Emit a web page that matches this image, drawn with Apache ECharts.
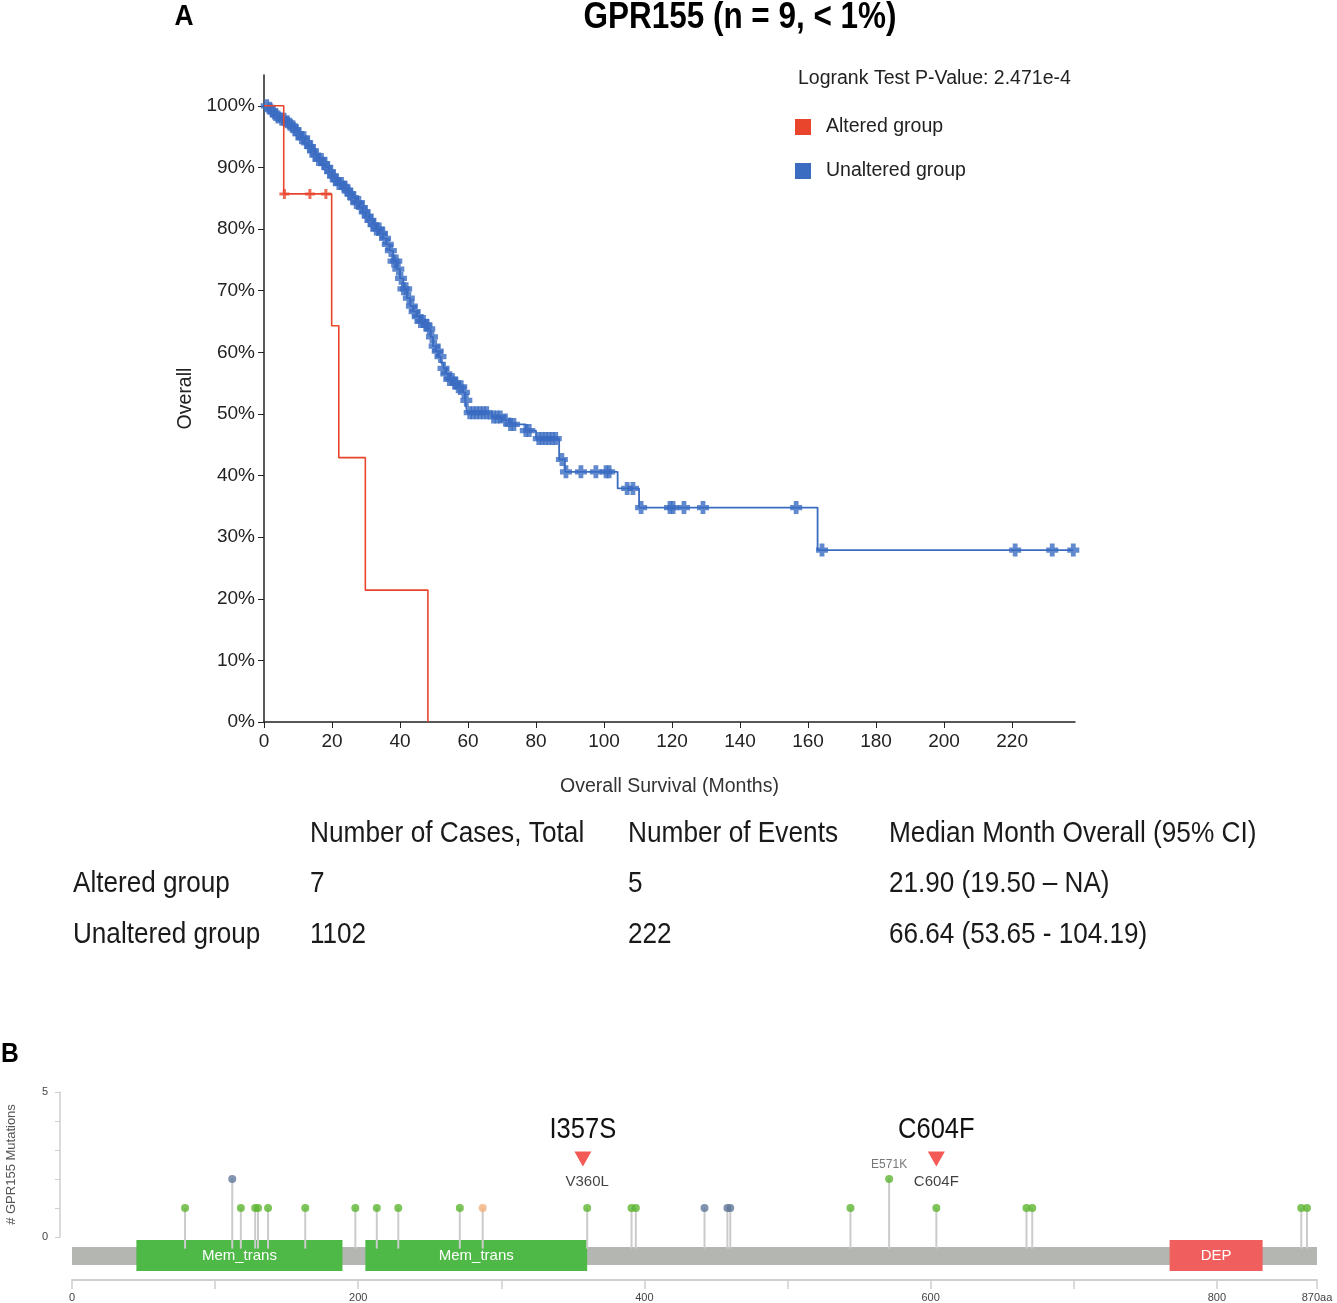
<!DOCTYPE html>
<html>
<head>
<meta charset="utf-8">
<script src="https://cdn.jsdelivr.net/npm/echarts@6/dist/echarts.min.js"></script>
<style>
html, body { margin: 0; padding: 0; background: #fff; }
#chart { width: 1337px; height: 1303px; }
</style>
</head>
<body>
<div id="chart"></div>
<script>
// ---- panel A: Kaplan-Meier, [months, survival %] ----
var alteredSteps = [[0, 100], [5.8, 85.7], [19.9, 64.3], [22.0, 42.9], [29.8, 21.4], [48.2, 0]];
var alteredCensored = [6.0, 13.5, 18.2];

var unalteredSteps = [
    [0, 100], [1, 99.6], [2, 99.1], [3, 98.6], [4, 98.2], [5, 97.8], [6, 97.4], [7, 97.0],
    [8, 96.6], [9, 96.1], [10, 95.5], [11, 94.8], [12, 94.0], [13, 93.4], [14, 92.7],
    [15, 92.0], [16, 91.3], [17, 90.6], [18, 90.0], [19, 89.3], [20, 88.6], [21, 88.0],
    [22, 87.4], [23, 86.8], [24, 86.3], [25, 85.7], [26, 85.1], [27, 84.3], [28, 83.5],
    [29, 82.8], [30, 82.1], [31, 81.4], [32, 80.7], [33, 80.0], [34, 79.3], [35, 78.5],
    [36, 77.5], [37, 76.5], [38, 74.8], [39, 73.5], [40, 72.0], [41, 70.3], [42, 68.8],
    [43, 67.5], [44, 66.6], [45, 65.8], [46, 65.0], [47, 64.4], [48, 63.8], [49, 62.5],
    [49.7, 61], [50.5, 60.2], [51.2, 59.3], [52, 58.3], [52.8, 57.4], [53.6, 56.5],
    [54.5, 55.6], [55.5, 55.0], [57, 54.4], [58.5, 53.5], [59.2, 52.2], [59.7, 50.2],
    [67, 49.5], [70, 49], [72.5, 48.3], [77, 47.3], [80, 46], [86.8, 42.6],
    [88.5, 40.6], [104, 37.9], [110.3, 34.8], [162.8, 27.9], [238, 27.9]
];
var unalteredCensored = [
    0.8, 1.7, 2.5, 3.4, 4.1, 5.2, 5.9, 6.8, 7.6, 8.5, 9.3, 10.1, 11.0, 11.8, 12.7, 13.5,
    14.4, 15.1, 16.0, 16.9, 17.7, 18.6, 19.4, 20.3, 21.1, 22.0, 22.8, 23.7, 24.5, 25.4,
    26.2, 27.1, 27.9, 28.8, 29.6, 30.5, 31.3, 32.2, 33.0, 33.9, 34.7, 35.6, 36.4, 37.3,
    38.1, 38.9, 39.5, 40.3, 41.0, 41.8, 42.6, 43.5, 44.3, 45.2, 46.0, 46.9, 47.8, 48.6,
    49.4, 50.2, 51.1, 51.9, 52.8, 53.6, 54.5, 55.4, 56.3, 57.1, 58.0, 58.8, 59.5,
    60.5, 61.5, 62.5, 63.5, 64.5, 65.5, 67.5, 68.5, 69.5, 71, 72.5, 73.5, 77, 78,
    80.8, 81.8, 82.8, 83.8, 84.8, 85.8, 87.6, 88.8, 93.2, 97.6, 100.6, 101.5, 106.8,
    108.5, 110.9, 119.4, 120.3, 123.5, 129.1, 156.5, 164.1, 220.9, 231.8, 238
];
var pctTicks = [0, 10, 20, 30, 40, 50, 60, 70, 80, 90, 100];
var monthTicks = [0, 20, 40, 60, 80, 100, 120, 140, 160, 180, 200, 220];
var pValueText = 'Logrank Test P-Value: 2.471e-4';

var tableHead = ['Number of Cases, Total', 'Number of Events', 'Median Month Overall (95% CI)'];
var tableGroups = ['Altered group', 'Unaltered group'];
var tableCases = ['7', '1102'];
var tableEvents = ['5', '222'];
var tableMedian = ['21.90 (19.50 – NA)', '66.64 (53.65 - 104.19)'];

// ---- panel B: lollipop ----
var proteinLength = 870;
var mutPos = [79, 112, 118, 128, 130, 137, 163, 198, 213, 228, 271, 287, 360, 391, 394,
              442, 458, 460, 544, 571, 604, 667, 671, 859, 863];
var mutCount = [1, 2, 1, 1, 1, 1, 1, 1, 1, 1, 1, 1, 1, 1, 1, 1, 1, 1, 1, 2, 1, 1, 1, 1, 1];
var mutType = ['missense', 'other', 'missense', 'missense', 'missense', 'missense', 'missense',
               'missense', 'missense', 'missense', 'missense', 'splice', 'missense', 'missense',
               'missense', 'other', 'other', 'other', 'missense', 'missense', 'missense',
               'missense', 'missense', 'missense', 'missense'];
var domainName = ['Mem_trans', 'Mem_trans', 'DEP'];
var domainStart = [45, 205, 767];
var domainEnd = [189, 360, 832];
var hotspotName = ['I357S', 'C604F'];
var hotspotPos = [357, 604];
var mutLabelText = ['V360L', 'C604F', 'E571K'];
var mutLabelPos = [360, 604, 571];
var aaTicks = [0, 100, 200, 300, 400, 500, 600, 700, 800, 870];
var aaLabels = [0, 200, 400, 600, 800, 870];
var countTicks = [0, 1, 2, 3, 4, 5];
var countLabels = [0, 5];

var RED = '#e8452c';
var BLUE = '#3a6cc2';
var typeColor = { missense: '#5cb531', other: '#62789a', splice: '#f2b07c' };
var domainColor = { Mem_trans: '#4fb947', DEP: '#f05e5e' };

var SANS = '"Liberation Sans", Arial, sans-serif';
var PLUS = 'path://M0,3.5H10V6.5H0Z M3.5,0H6.5V10H3.5Z';
var PLUS_BOLD = 'path://M0,3H10V7H0Z M3,0H7V10H3Z';

function survAt(steps, t) {
    var s = steps[0][1];
    for (var i = 0; i < steps.length; i++) {
        if (steps[i][0] <= t) s = steps[i][1];
    }
    return s;
}

function censorPoints(steps, times) {
    return times.map(function (t) { return [t, survAt(steps, t)]; });
}

// text element; squeeze < 1 narrows the glyphs like the condensed face in the figure
function txt(x, y, text, font, fill, align, squeeze) {
    return {
        type: 'text', x: x, y: y, silent: true, scaleX: squeeze || 1,
        style: {
            text: text, font: font, fill: fill || '#222',
            align: align || 'left', verticalAlign: 'middle',
            textAlign: align || 'left', textVerticalAlign: 'middle'
        }
    };
}

var graphics = [
    txt(184, 17, 'A', 'bold 30px ' + SANS, '#000', 'center', 0.88),
    txt(740, 18, 'GPR155 (n = 9, < 1%)', 'bold 36px ' + SANS, '#000', 'center', 0.874),
    txt(798, 79, pValueText, '19.5px ' + SANS, '#222'),
    txt(10, 1054, 'B', 'bold 28px ' + SANS, '#000', 'center', 0.88)
];
var colX = [310, 628, 889];
tableHead.forEach(function (h, i) {
    graphics.push(txt(colX[i], 834, h, '29px ' + SANS, '#1a1a1a', 'left', 0.905));
});
tableGroups.forEach(function (g, r) {
    var y = 884 + r * 51;
    graphics.push(txt(73, y, g, '29px ' + SANS, '#1a1a1a', 'left', 0.9));
    graphics.push(txt(colX[0], y, tableCases[r], '29px ' + SANS, '#1a1a1a', 'left', 0.9));
    graphics.push(txt(colX[1], y, tableEvents[r], '29px ' + SANS, '#1a1a1a', 'left', 0.9));
    graphics.push(txt(colX[2], y, tableMedian[r], '29px ' + SANS, '#1a1a1a', 'left', 0.9));
});

var chart = echarts.init(document.getElementById('chart'), null, { renderer: 'canvas' });

chart.setOption({
    animation: false,
    backgroundColor: '#fff',
    textStyle: { fontFamily: SANS },
    graphic: graphics,
    legend: {
        data: ['Altered group', 'Unaltered group'],
        orient: 'vertical',
        left: 790, top: 112,
        itemWidth: 16, itemHeight: 16, itemGap: 24,
        icon: 'rect',
        textStyle: { fontSize: 19.5, color: '#222', fontFamily: SANS, padding: [0, 0, 0, 10] }
    },
    grid: [
        { left: 264, top: 75, width: 811, height: 647 },
        { left: 72, top: 1238, width: 1245, height: 42 },
        { left: 72, top: 1092, width: 1245, height: 145 },
        { left: 60, top: 1092, width: 1, height: 145 }
    ],
    xAxis: [
        {
            gridIndex: 0, type: 'value', min: 0, max: 238.5,
            axisLine: { show: true, lineStyle: { color: '#222', width: 1.5 } },
            axisTick: { show: true, customValues: monthTicks, length: 6, lineStyle: { color: '#222' } },
            axisLabel: { customValues: monthTicks, fontSize: 19, color: '#222', margin: 10 },
            splitLine: { show: false },
            name: 'Overall Survival (Months)', nameLocation: 'middle', nameGap: 55,
            nameTextStyle: { fontSize: 19.5, color: '#333' }
        },
        {
            gridIndex: 1, type: 'value', min: 0, max: proteinLength,
            axisLine: { show: true, onZero: false, lineStyle: { color: '#cfcfcf', width: 2 } },
            axisTick: { show: true, customValues: aaTicks, length: 9, lineStyle: { color: '#cfcfcf', width: 1.5 } },
            axisLabel: {
                customValues: aaLabels, fontSize: 11, color: '#444', margin: 12,
                formatter: function (v) { return v === proteinLength ? v + 'aa' : String(v); }
            },
            splitLine: { show: false }
        },
        { gridIndex: 2, type: 'value', min: 0, max: proteinLength, show: false },
        { gridIndex: 3, type: 'value', min: 0, max: 1, show: false }
    ],
    yAxis: [
        {
            gridIndex: 0, type: 'value', min: 0, max: 105,
            axisLine: { show: true, lineStyle: { color: '#222', width: 1.5 } },
            axisTick: { show: true, customValues: pctTicks, length: 6, lineStyle: { color: '#222' } },
            axisLabel: {
                customValues: pctTicks, fontSize: 19, color: '#222', margin: 9,
                formatter: function (v) { return v + '%'; }
            },
            splitLine: { show: false },
            name: 'Overall', nameLocation: 'middle', nameGap: 66, nameRotate: 90,
            nameTextStyle: { fontSize: 19.5, color: '#222' }
        },
        { gridIndex: 1, type: 'value', min: 0, max: 42, show: false },
        { gridIndex: 2, type: 'value', min: 0, max: 5, show: false },
        {
            gridIndex: 3, type: 'value', min: 0, max: 5,
            axisLine: { show: true, lineStyle: { color: '#cfcfcf', width: 1.5 } },
            axisTick: { show: true, customValues: countTicks, length: 5, lineStyle: { color: '#cfcfcf' } },
            axisLabel: { customValues: countLabels, fontSize: 11, color: '#444', margin: 12 },
            splitLine: { show: false },
            name: '# GPR155 Mutations', nameLocation: 'middle', nameGap: 42, nameRotate: 90,
            nameTextStyle: { fontSize: 13, color: '#555' }
        }
    ],
    series: [
        {
            name: 'Altered group', type: 'line', step: 'end', xAxisIndex: 0, yAxisIndex: 0,
            data: alteredSteps, showSymbol: false, z: 4,
            itemStyle: { color: RED }, lineStyle: { color: RED, width: 1.6 }
        },
        {
            name: 'Altered group censored', type: 'scatter', xAxisIndex: 0, yAxisIndex: 0,
            data: censorPoints(alteredSteps, alteredCensored), symbol: PLUS, symbolSize: 10, z: 5,
            itemStyle: { color: RED }
        },
        {
            name: 'Unaltered group', type: 'line', step: 'end', xAxisIndex: 0, yAxisIndex: 0,
            data: unalteredSteps, showSymbol: false, z: 3,
            itemStyle: { color: BLUE }, lineStyle: { color: BLUE, width: 1.8 }
        },
        {
            name: 'Unaltered group censored', type: 'scatter', xAxisIndex: 0, yAxisIndex: 0,
            data: censorPoints(unalteredSteps, unalteredCensored), symbol: PLUS_BOLD,
            symbolSize: [12, 13], z: 3,
            itemStyle: { color: BLUE }
        },
        {
            // protein backbone and domains
            type: 'custom', xAxisIndex: 1, yAxisIndex: 1, z: 2,
            data: [[0, proteinLength, 'backbone']].concat(domainName.map(function (n, i) {
                return [domainStart[i], domainEnd[i], n];
            })),
            renderItem: function (params, api) {
                var name = api.value(2);
                var isBar = name === 'backbone';
                var p0 = api.coord([api.value(0), isBar ? 33 : 40]);
                var p1 = api.coord([api.value(1), isBar ? 15 : 9]);
                var rect = { x: p0[0], y: p0[1], width: p1[0] - p0[0], height: p1[1] - p0[1] };
                if (isBar) {
                    return { type: 'rect', shape: rect, style: { fill: '#b4b7b1' } };
                }
                return {
                    type: 'group',
                    children: [
                        { type: 'rect', shape: rect, style: { fill: domainColor[name] } },
                        {
                            type: 'text', x: rect.x + rect.width / 2, y: rect.y + rect.height / 2,
                            style: {
                                text: name, fill: '#fff', font: '15px ' + SANS,
                                align: 'center', verticalAlign: 'middle',
                                textAlign: 'center', textVerticalAlign: 'middle'
                            }
                        }
                    ]
                };
            }
        },
        {
            // lollipop stems
            type: 'custom', xAxisIndex: 2, yAxisIndex: 2, z: 2,
            data: mutPos.map(function (p, i) { return [p, mutCount[i]]; }),
            renderItem: function (params, api) {
                var top = api.coord([api.value(0), api.value(1)]);
                var base = api.coord([api.value(0), -0.4]);
                return {
                    type: 'line',
                    shape: { x1: top[0], y1: top[1], x2: base[0], y2: base[1] },
                    style: { stroke: '#cbcbcb', lineWidth: 2 }
                };
            }
        },
        {
            // lollipop heads
            type: 'scatter', xAxisIndex: 2, yAxisIndex: 2, z: 4, symbolSize: 8,
            data: mutPos.map(function (p, i) {
                return { value: [p, mutCount[i]], itemStyle: { color: typeColor[mutType[i]] } };
            })
        },
        {
            // hotspot triangles
            type: 'scatter', xAxisIndex: 2, yAxisIndex: 2, z: 5,
            symbol: 'triangle', symbolRotate: 180, symbolSize: [17, 15],
            itemStyle: { color: '#f0302a' },
            data: hotspotPos.map(function (p) { return [p, 2.69]; })
        },
        {
            // hotspot names, condensed
            type: 'custom', xAxisIndex: 2, yAxisIndex: 2, z: 5,
            data: hotspotPos.map(function (p, i) { return [p, 3.7, i]; }),
            renderItem: function (params, api) {
                var pt = api.coord([api.value(0), api.value(1)]);
                return {
                    type: 'text', x: pt[0], y: pt[1], scaleX: 0.88,
                    style: {
                        text: hotspotName[api.value(2)], fill: '#111', font: '29px ' + SANS,
                        align: 'center', verticalAlign: 'middle',
                        textAlign: 'center', textVerticalAlign: 'middle'
                    }
                };
            }
        },
        {
            // per-mutation labels
            type: 'scatter', xAxisIndex: 2, yAxisIndex: 2, z: 5, symbolSize: 0,
            label: {
                show: true, position: 'inside',
                formatter: function (p) { return mutLabelText[p.dataIndex]; }
            },
            data: mutLabelPos.map(function (p, i) {
                var small = mutLabelText[i] === 'E571K';
                return {
                    value: [p, small ? 2.5 : 1.9],
                    label: small ? { fontSize: 12, color: '#555' } : { fontSize: 15, color: '#111' }
                };
            })
        }
    ]
});
</script>
</body>
</html>
